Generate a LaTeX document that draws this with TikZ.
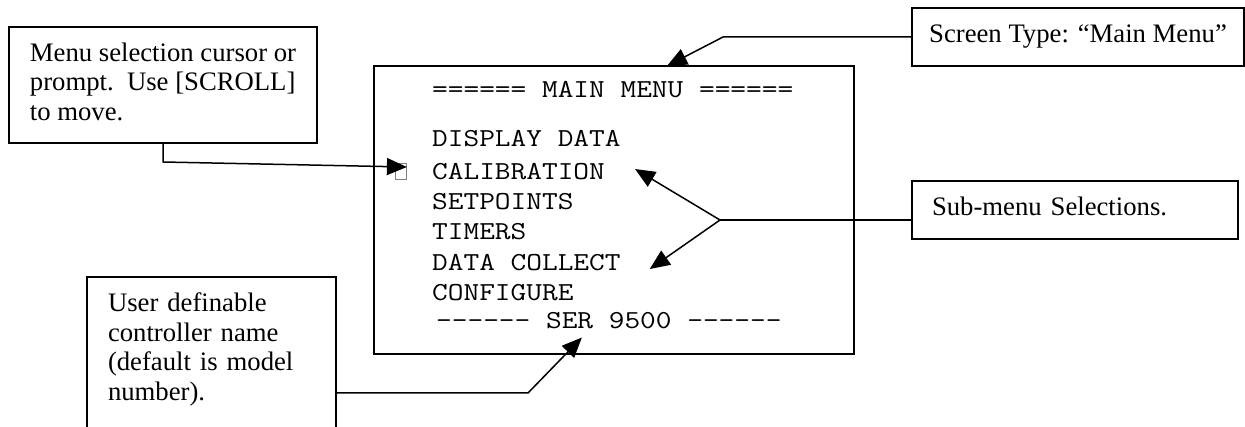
\documentclass[tikz,border=0pt]{standalone}
\usepackage{fontspec}
\setmainfont{Liberation Serif}
\usetikzlibrary{arrows.meta}
\newcommand\cbnote{\fontsize{26.7pt}{29.5pt}\selectfont}
\newcommand\cbscr{\ttfamily\fontsize{30.48pt}{30pt}\selectfont}
\newcommand\cbsq[1]{\scalebox{1}[0.85]{#1}}
\begin{document}
\begin{tikzpicture}[x=1pt,y=-1pt,
  box/.style={draw, line width=1.6pt, outer sep=0pt, inner sep=0pt},
  note/.style={box, font=\cbnote, align=left, anchor=north west},
  frame/.style={line width=1.6pt},
  scr/.style={font=\cbscr, anchor=base west, inner sep=0pt},
  conn/.style={line width=1.5pt},
  arr/.style={line width=1.5pt, -{Triangle[length=20pt,width=17pt]}}]
\useasboundingbox (0,0) rectangle (1245,427);
\fill[white] (0,0) rectangle (1245,427);
\clip (0,0) rectangle (1245,427);

% callout boxes
\node[note, minimum width=308pt, minimum height=116pt] (menu) at (9,27)
  {\strut Menu selection cursor or\\prompt.\ \ Use [SCROLL]\\to move.\strut};
\node[box, font=\cbnote, minimum width=332pt, minimum height=58pt, anchor=north west,
  text height=20.65pt, text depth=8.85pt] (stype) at (912,8) {Screen Type: “Main Menu”};
\node[note, minimum width=326pt, minimum height=58pt, text width=286pt] (sub) at (912,181)
  {\strut Sub-menu Selections.\strut};
\node[note, draw=none, text width=207pt, inner xsep=21pt, inner ysep=14pt] (user) at (87,277)
  {\strut User definable\\controller name\\(default is model\\number).\strut};
\draw[frame] ([yshift=-200pt]user.north west) -- (user.north west) -- (user.north east) -- ([yshift=-200pt]user.north east);

% screen
\node[box, minimum width=480pt, minimum height=288pt, anchor=north west] (screen) at (374,66) {};
\node[scr] (title) at (432,98) {\cbsq{====== MAIN MENU ======}};
\node[scr] (disp) at (432,147) {\cbsq{DISPLAY DATA}};
\node[scr] (calib) at (432,180) {\cbsq{CALIBRATION}};
\node[scr] (setp) at (432,210) {\cbsq{SETPOINTS}};
\node[scr] (timers) at (432,240) {\cbsq{TIMERS}};
\node[scr] (collect) at (432,271) {\cbsq{DATA COLLECT}};
\node[scr] (config) at (432,301) {\cbsq{CONFIGURE}};
\node[scr] (ser) at (436,329) {\cbsq{-{}-{}-{}-{}-{}- SER 9500 -{}-{}-{}-{}-{}-}};
\node[draw=gray, line width=0.8pt, minimum width=11pt, minimum height=16pt, inner sep=0pt] (cursor) at (401,171) {};

% connectors
\draw[arr] ([xshift=154pt]menu.south west) -- ++(0,19) -- ([yshift=4pt]cursor.east);
\draw[arr] (stype.west) -- ++(-189,0) -- ([xshift=293pt]screen.north west);
\coordinate (junc) at ([xshift=-192pt,yshift=-10pt]sub.west);
\draw[conn] ([yshift=-10pt]sub.west) -- (junc);
\draw[arr] (junc) -- ([shift={(30pt,3pt)}]calib.east);
\draw[arr] (junc) -- ([shift={(29pt,-6pt)}]collect.east);
\draw[arr] ([yshift=-116pt]user.north east) -- ++(192,0) -- ([shift={(-27pt,-8pt)}]ser.south);
\end{tikzpicture}
\end{document}
